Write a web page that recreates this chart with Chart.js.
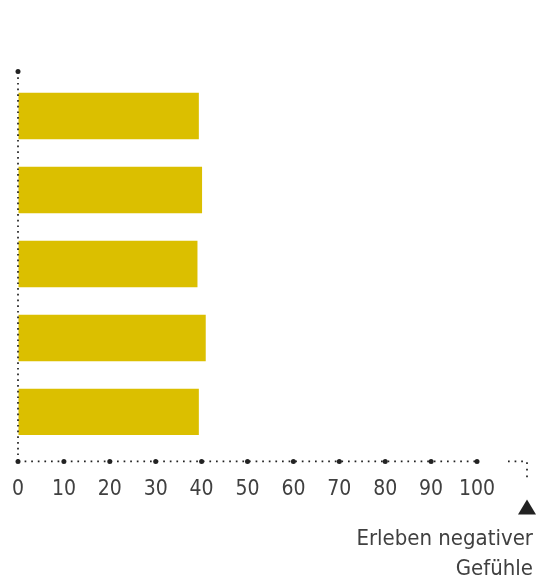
<!DOCTYPE html>
<html>
<head>
<meta charset="utf-8">
<script src="https://cdn.jsdelivr.net/npm/chart.js@4"></script>
<style>
  html, body { margin: 0; padding: 0; background: #fff; }
  #wrap { width: 548px; height: 582px; }
</style>
</head>
<body>
<div id="wrap"><canvas id="chart" width="548" height="582"></canvas></div>
<script>
// -------- DATEN --------
const gruppen = ["1", "2", "3", "4", "5"];
const werte = [39.4, 40.1, 39.1, 40.9, 39.4];
const xTicks = [0, 10, 20, 30, 40, 50, 60, 70, 80, 90, 100];
const achsenTitel = ["Erleben negativer", "Gefühle"];

const gelb = "#dbbf00";
const textFarbe = "#404040";
const schrift = "'DejaVu Sans Condensed', 'Liberation Sans Narrow', sans-serif";

// -------- ACHSEN (punktiert) + PFEIL --------
const punktAchsen = {
    id: "punktAchsen",
    afterDraw(chart){
        const ctx = chart.ctx;
        const a = chart.chartArea;
        const sx = chart.scales.x;
        const x0 = sx.getPixelForValue(0);
        const x100 = sx.getPixelForValue(100);
        const yAchse = a.bottom + 12.5;
        const yOben = a.top - 7.5;

        ctx.save();
        ctx.fillStyle = "#222";
        ctx.strokeStyle = "#222";
        ctx.lineWidth = 1.7;

        // y-Achse
        ctx.setLineDash([1.7, 4]);
        ctx.beginPath();
        ctx.moveTo(x0, yOben);
        ctx.lineTo(x0, yAchse);
        ctx.stroke();

        // x-Achse
        ctx.setLineDash([1.7, 4.9]);
        ctx.beginPath();
        ctx.moveTo(x0, yAchse);
        ctx.lineTo(x100, yAchse);
        ctx.stroke();

        // Pfeil-Ecke rechts
        const xe = 527;
        ctx.beginPath();
        ctx.moveTo(xe - 19, yAchse);
        ctx.lineTo(xe, yAchse);
        ctx.lineTo(xe, yAchse + 19);
        ctx.stroke();
        ctx.setLineDash([]);

        // Punkte
        const punkt = (x, y, r) => { ctx.beginPath(); ctx.arc(x, y, r, 0, Math.PI*2); ctx.fill(); };
        punkt(x0, yOben, 2.5);
        xTicks.forEach(v => punkt(sx.getPixelForValue(v), yAchse, 2.5));

        // Dreieck
        ctx.beginPath();
        ctx.moveTo(xe, yAchse + 38);
        ctx.lineTo(xe + 9, yAchse + 53);
        ctx.lineTo(xe - 9, yAchse + 53);
        ctx.closePath();
        ctx.fill();
        ctx.restore();
    }
};

new Chart(document.getElementById("chart"), {
    type: "bar",
    data: {
        labels: gruppen,
        datasets: [{
            data: werte,
            backgroundColor: gelb,
            borderWidth: 0,
            categoryPercentage: 1,
            barPercentage: 0.626
        }]
    },
    options: {
        indexAxis: "y",
        responsive: false,
        animation: false,
        layout: { padding: { left: 18, right: 15, top: 79, bottom: -2 } },
        plugins: {
            legend: { display: false },
            tooltip: { enabled: false },
            title: {
                display: true,
                text: achsenTitel,
                position: "bottom",
                align: "end",
                color: textFarbe,
                font: { family: schrift, size: 22, lineHeight: 1.36, weight: "normal" },
                padding: { top: 22, bottom: 0 }
            }
        },
        scales: {
            x: {
                type: "linear",
                min: 0,
                max: 112.2,
                border: { display: false },
                grid: { display: true, drawOnChartArea: false, drawTicks: true, tickLength: 28, color: "rgba(0,0,0,0)" },
                afterBuildTicks: s => { s.ticks = xTicks.map(v => ({ value: v })); },
                ticks: {
                    padding: 0,
                    color: textFarbe,
                    font: { family: schrift, size: 21 },
                    maxRotation: 0,
                    autoSkip: false
                }
            },
            y: {
                display: false,
                grid: { display: false }
            }
        }
    },
    plugins: [punktAchsen]
});
</script>
</body>
</html>
